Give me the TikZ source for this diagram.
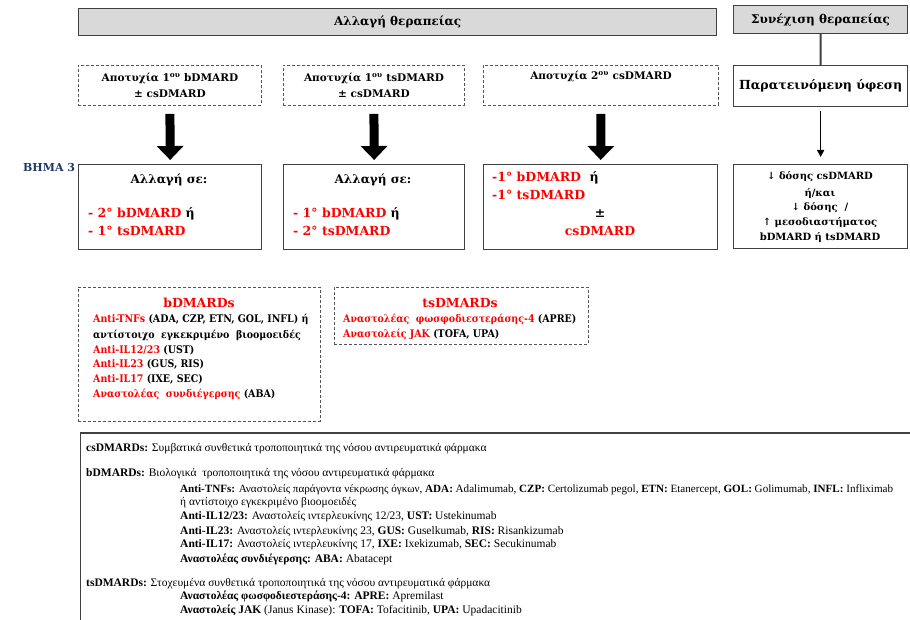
\documentclass[tikz,border=0pt]{standalone}
\usepackage{fontspec}
\setmainfont{DejaVu Serif}
\newfontfamily\legfont{Liberation Serif}
\newfontfamily\condfont{DejaVu Serif Condensed}
\usetikzlibrary{arrows.meta}
\definecolor{myred}{HTML}{FF0000}
\definecolor{navy}{HTML}{1F3864}
\definecolor{boxgray}{HTML}{D9D9D9}
\definecolor{edgec}{HTML}{404040}
\definecolor{dashc}{HTML}{555555}
\tikzset{
 graybox/.style={draw=edgec, fill=boxgray, line width=1.2pt, anchor=north west, inner sep=0pt, font=\bfseries\fontsize{12}{14}\selectfont},
 dbox/.style={draw=dashc, dash pattern=on 3pt off 2pt, line width=0.9pt, anchor=north west, inner sep=0pt, align=center, font=\bfseries\fontsize{10.5}{16}\selectfont},
 sbox/.style={draw=edgec, line width=1.3pt, anchor=north west, inner sep=0pt},
 bigarrow/.style={line width=9pt, -{Triangle[width=26pt,length=14pt]}},
 thinarrow/.style={line width=1.5pt, draw=black, -{Triangle[width=7pt,length=7pt]}},
 conn/.style={line width=2pt, draw=edgec},
 lt/.style={anchor=base west, inner sep=0pt, font=\bfseries\fontsize{12.5}{14}\selectfont},
 ct/.style={anchor=base, inner sep=0pt, font=\bfseries\fontsize{12.5}{14}\selectfont},
 smt/.style={anchor=base, inner sep=0pt, font=\bfseries\fontsize{10}{12}\selectfont},
 listt/.style={anchor=base west, inner sep=0pt, font=\condfont\bfseries\fontsize{10.5}{12}\selectfont},
 leg/.style={anchor=base west, inner sep=0pt, font=\legfont\fontsize{11.5}{12}\selectfont},
}
\begin{document}
\begin{tikzpicture}[x=1pt,y=-1pt]
\path[use as bounding box, clip] (0,0) rectangle (910,620);
\fill[white] (0,0) rectangle (910,620);
% header boxes
\node[graybox, minimum width=638pt, minimum height=27pt] (top1) at (78,8) {Αλλαγή θεραπείας};
\node[graybox, minimum width=174pt, minimum height=28pt] (top2) at (733,5) {Συνέχιση θεραπείας};
\node[sbox, minimum width=174pt, minimum height=41pt, font=\bfseries\fontsize{12.5}{15}\selectfont] (rem) at (733,65) {Παρατεινόμενη ύφεση};
\draw[conn] (top2) -- (rem);
% dashed boxes
\node[dbox, minimum width=183pt, minimum height=40pt] (d1) at (78,65) {Αποτυχία 1\textsuperscript{ου} bDMARD\\± csDMARD};
\node[dbox, minimum width=181pt, minimum height=40pt] (d2) at (283,65) {Αποτυχία 1\textsuperscript{ου} tsDMARD\\± csDMARD};
\node[dbox, minimum width=235pt, minimum height=40pt] (d3) at (483,65) {Αποτυχία 2\textsuperscript{ου} csDMARD\\\strut};
% solid boxes
\node[sbox, minimum width=183pt, minimum height=85pt] (s1) at (78,164) {};
\node[sbox, minimum width=181pt, minimum height=85pt] (s2) at (283,164) {};
\node[sbox, minimum width=234pt, minimum height=85pt] (s3) at (483,164) {};
\node[sbox, minimum width=174pt, minimum height=84pt] (s4) at (733,164) {};
% arrows
\draw[bigarrow] ([yshift=-8pt]d1.south) -- ([yshift=4pt]s1.north);
\draw[bigarrow] ([yshift=-8pt]d2.south) -- ([yshift=4pt]s2.north);
\draw[bigarrow] ([yshift=-8pt]d3.south) -- ([yshift=4pt]s3.north);
\draw[thinarrow] ([yshift=-4pt]rem.south) -- ([yshift=7pt]s4.north);
% step label
\node[anchor=base west, inner sep=0pt, text=navy, font=\bfseries\fontsize{11}{12}\selectfont] (step3) at (23,172) {BHMA 3};
% box 1
\node[ct, font=\bfseries\fontsize{12}{13}\selectfont] (s1a) at (169,184) {Αλλαγή σε:};
\node[lt, text=myred] (s1b) at (88,218) {- 2° bDMARD \textcolor{black}{ή}};
\node[lt, text=myred] (s1c) at (88,236) {- 1° tsDMARD};
% box 2
\node[ct, font=\bfseries\fontsize{12}{13}\selectfont] (s2a) at (373,184) {Αλλαγή σε:};
\node[lt, text=myred] (s2b) at (293,218) {- 1° bDMARD \textcolor{black}{ή}};
\node[lt, text=myred] (s2c) at (293,236) {- 2° tsDMARD};
% box 3
\node[lt, text=myred] (s3a) at (492,182) {-1° bDMARD\ \ \textcolor{black}{ή}};
\node[lt, text=myred] (s3b) at (492,200) {-1° tsDMARD};
\node[ct] (s3c) at (600,218) {±};
\node[ct, text=myred] (s3d) at (600,236) {csDMARD};
% box 4
\node[smt] (s4a) at (820,180) {↓ δόσης csDMARD};
\node[smt] (s4b) at (820,197) {ή/και};
\node[smt] (s4c) at (820,211) {↓ δόσης\ \ /};
\node[smt] (s4d) at (820,226) {↑ μεσοδιαστήματος};
\node[smt] (s4e) at (820,241) {bDMARD ή tsDMARD};
% bDMARDs list box
\node[dbox, minimum width=242pt, minimum height=134pt] (bl) at (78,287) {};
\node[ct, text=myred] (bla) at (199,308) {bDMARDs};
\node[listt] (bl1) at (93,322) {\textcolor{myred}{Anti-TNFs} (ADA, CZP, ETN, GOL, INFL) ή};
\node[listt] (bl2) at (93,338) {αντίστοιχο\ \ εγκεκριμένο\ \ βιοομοειδές};
\node[listt] (bl3) at (93,353) {\textcolor{myred}{Anti-IL12/23} (UST)};
\node[listt] (bl4) at (93,367) {\textcolor{myred}{Anti-IL23} (GUS, RIS)};
\node[listt] (bl5) at (93,382) {\textcolor{myred}{Anti-IL17} (IXE, SEC)};
\node[listt] (bl6) at (93,397) {\textcolor{myred}{Αναστολέας\ \ συνδιέγερσης} (ABA)};
% tsDMARDs list box
\node[dbox, minimum width=254pt, minimum height=57pt] (tl) at (334,287) {};
\node[ct, text=myred] (tla) at (460,308) {tsDMARDs};
\node[listt] (tl1) at (343,322) {\textcolor{myred}{Αναστολέας\ \ φωσφοδιεστεράσης-4} (APRE)};
\node[listt] (tl2) at (343,337) {\textcolor{myred}{Αναστολείς JAK} (TOFA, UPA)};
% legend box
\draw[draw=edgec, line width=1.5pt] (930,433) -- (80,433);
\draw[draw=edgec, line width=1pt] (80,433) -- (80,640);
\node[leg] (l1) at (86,451) {\textbf{csDMARDs:} Συμβατικά συνθετικά τροποποιητικά της νόσου αντιρευματικά φάρμακα};
\node[leg] (l2) at (86,476) {\textbf{bDMARDs:} Βιολογικά\ \ τροποποιητικά της νόσου αντιρευματικά φάρμακα};
\node[leg, font=\legfont\fontsize{11.1}{12}\selectfont] (l3) at (180,492) {\textbf{Anti-TNFs:} Αναστολείς παράγοντα νέκρωσης όγκων, \textbf{ADA:} Adalimumab, \textbf{CZP:} Certolizumab pegol, \textbf{ETN:} Etanercept, \textbf{GOL:} Golimumab, \textbf{INFL:} Infliximab};
\node[leg] (l4) at (180,505) {ή αντίστοιχο εγκεκριμένο βιοομοειδές};
\node[leg] (l5) at (180,519) {\textbf{Anti-IL12/23:} Αναστολείς ιντερλευκίνης 12/23, \textbf{UST:} Ustekinumab};
\node[leg] (l6) at (180,534) {\textbf{Anti-IL23:} Αναστολείς ιντερλευκίνης 23, \textbf{GUS:} Guselkumab, \textbf{RIS:} Risankizumab};
\node[leg] (l7) at (180,547) {\textbf{Anti-IL17:} Αναστολείς ιντερλευκίνης 17, \textbf{IXE:} Ixekizumab, \textbf{SEC:} Secukinumab};
\node[leg] (l8) at (180,562) {\textbf{Αναστολέας συνδιέγερσης: ABA:} Abatacept};
\node[leg] (l9) at (86,586) {\textbf{tsDMARDs:} Στοχευμένα συνθετικά τροποποιητικά της νόσου αντιρευματικά φάρμακα};
\node[leg] (l10) at (180,599) {\textbf{Αναστολέας φωσφοδιεστεράσης-4: APRE:} Apremilast};
\node[leg] (l11) at (180,613) {\textbf{Αναστολείς JAK} (Janus Kinase): \textbf{TOFA:} Tofacitinib, \textbf{UPA:} Upadacitinib};
\end{tikzpicture}
\end{document}
